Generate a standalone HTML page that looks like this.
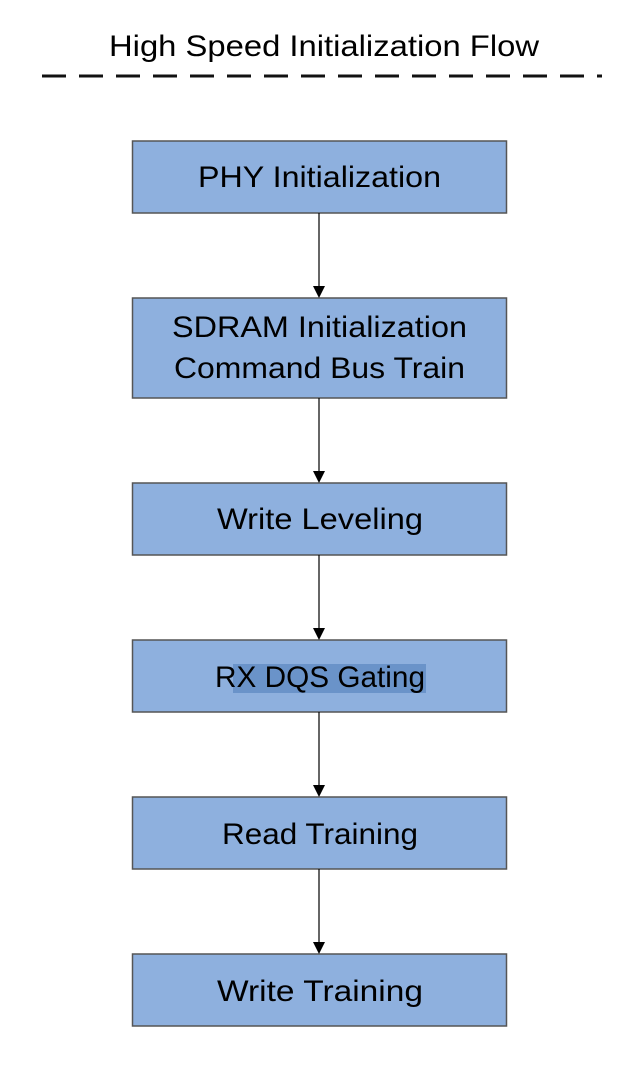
<!DOCTYPE html>
<html><head><meta charset="utf-8"><style>html,body{margin:0;padding:0;background:#fff;}svg{display:block}</style></head><body>
<svg width="631" height="1081" viewBox="0 0 631 1081" xmlns="http://www.w3.org/2000/svg" font-family="Liberation Sans, sans-serif" font-size="30" fill="#000">
<rect width="631" height="1081" fill="#fff"/>
<text x="109" y="56" textLength="430" lengthAdjust="spacingAndGlyphs">High Speed Initialization Flow</text>
<line x1="42" y1="76" x2="602" y2="76" stroke="#111" stroke-width="3" stroke-dasharray="24,13"/>
<g fill="#8eb0de" stroke="#555" stroke-width="1.5">
<rect x="132.5" y="141" width="374" height="72"/>
<rect x="132.5" y="298" width="374" height="100"/>
<rect x="132.5" y="483" width="374" height="72"/>
<rect x="132.5" y="640" width="374" height="72"/>
<rect x="132.5" y="797" width="374" height="72"/>
<rect x="132.5" y="954" width="374" height="72"/>
</g>
<rect x="233" y="664" width="193" height="29" fill="#6a93c9"/>
<g stroke="#000" stroke-width="1.2">
<line x1="319" y1="213" x2="319" y2="287"/>
<line x1="319" y1="398" x2="319" y2="472"/>
<line x1="319" y1="555" x2="319" y2="629"/>
<line x1="319" y1="712" x2="319" y2="786"/>
<line x1="319" y1="869" x2="319" y2="943"/>
</g>
<g fill="#000">
<polygon points="313,286 325,286 319,298"/>
<polygon points="313,471 325,471 319,483"/>
<polygon points="313,628 325,628 319,640"/>
<polygon points="313,785 325,785 319,797"/>
<polygon points="313,942 325,942 319,954"/>
</g>
<text x="198" y="187" textLength="243" lengthAdjust="spacingAndGlyphs">PHY Initialization</text>
<text x="172" y="337" textLength="295" lengthAdjust="spacingAndGlyphs">SDRAM Initialization</text>
<text x="174" y="378" textLength="291" lengthAdjust="spacingAndGlyphs">Command Bus Train</text>
<text x="217" y="529" textLength="206" lengthAdjust="spacingAndGlyphs">Write Leveling</text>
<text x="215" y="687" textLength="210" lengthAdjust="spacingAndGlyphs">RX DQS Gating</text>
<text x="222" y="844" textLength="196" lengthAdjust="spacingAndGlyphs">Read Training</text>
<text x="217" y="1001" textLength="206" lengthAdjust="spacingAndGlyphs">Write Training</text>
</svg>
</body></html>
